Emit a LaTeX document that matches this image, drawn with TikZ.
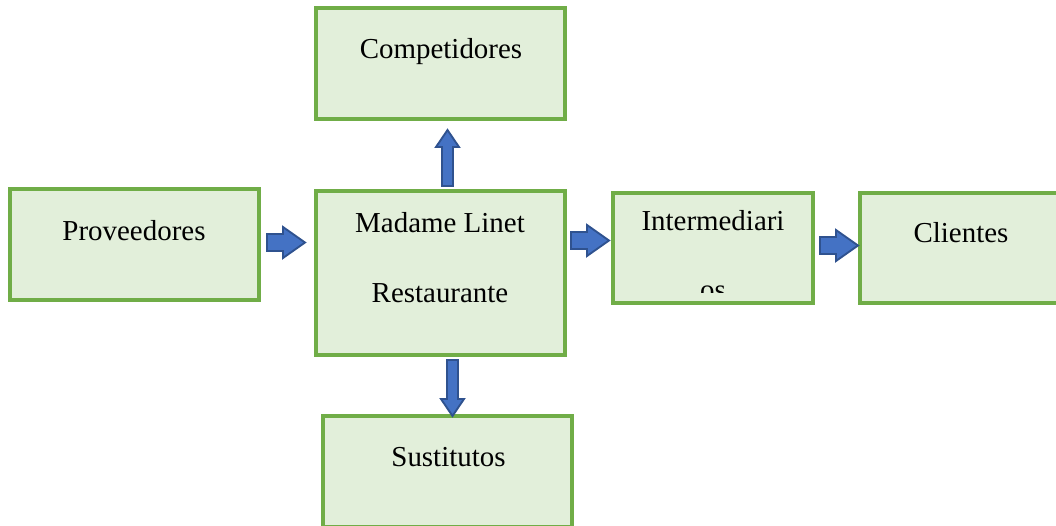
\documentclass[tikz,border=0pt]{standalone}
\usepackage{fontspec}
\setmainfont{Liberation Serif}
\definecolor{boxfill}{HTML}{E2EFDA}
\definecolor{boxline}{HTML}{70AD47}
\definecolor{arrfill}{HTML}{4472C4}
\definecolor{arrline}{HTML}{2F528F}
\tikzset{
  box/.style={draw=boxline, fill=boxfill, line width=2.4pt, rectangle, inner sep=0pt},
  lbl/.style={font=\fontsize{21.7}{26}\selectfont, inner sep=0pt, anchor=base},
  blk/.style={draw=arrline, fill=arrfill, line width=1.4pt, line join=miter},
  % block arrow pointing along +x: length, head length, shaft half-width, head half-width
  pics/blkarrow/.style n args={4}{code={
    \draw[blk] (0,-#3) -- ({#1-#2},-#3) -- ({#1-#2},-#4) -- (#1,0)
      -- ({#1-#2},#4) -- ({#1-#2},#3) -- (0,#3) -- cycle;
  }}
}
\begin{document}
\begin{tikzpicture}[x=0.75pt,y=-0.75pt]
\useasboundingbox (0,0) rectangle (1056,525);
\clip (0,0) rectangle (1056,525);

% boxes
\node[box, minimum width=186.75pt, minimum height=83.25pt] (comp) at (440.5,63.5) {};
\node[box, minimum width=186.75pt, minimum height=83.25pt] (prov) at (134.5,244.5) {};
\node[box, minimum width=186.75pt, minimum height=123pt]   (mad)  at (440.5,273) {};
\node[box, minimum width=150pt,    minimum height=82.5pt]  (inter) at (713,248) {};
\node[box, minimum width=150pt,    minimum height=82.5pt]  (cli)  at (960,248) {};
\node[box, minimum width=186.75pt, minimum height=83.25pt] (sust) at (447.5,471.5) {};

% labels
\node[lbl] (tcomp) at (441,58) {Competidores};
\node[lbl] (tprov) at (134,240) {Proveedores};
\node[lbl] (tmad1) at (440,232) {Madame Linet};
\node[lbl] (tmad2) at (440,302) {Restaurante};
\node[lbl] (tcli)  at (961,242) {Clientes};
\node[lbl] (tsust) at (448.5,466) {Sustitutos};
\node[lbl] (tint1) at (713,230) {Intermediari};
\begin{scope}
  \clip (600,150) rectangle (830,292);
  \node[lbl] (tint2) at (713,299) {os};
\end{scope}

% block arrows
\pic at (267,242.5) {blkarrow={38}{22}{8.5}{15.5}};
\pic at (571,240.5) {blkarrow={38}{22}{8.5}{15.5}};
\pic at (820,245.5) {blkarrow={38}{22}{8.5}{15.5}};
\pic[rotate=90] at (447.5,186) {blkarrow={56}{17}{5.5}{11.5}};
\pic[rotate=-90] at (452.5,360) {blkarrow={56}{17}{5.5}{11.5}};
\end{tikzpicture}
\end{document}
